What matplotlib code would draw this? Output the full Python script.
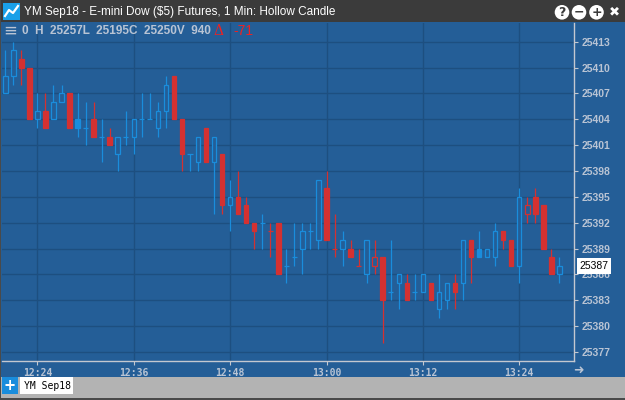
import numpy as np
import pandas as pd
import matplotlib
matplotlib.use('Agg')
import matplotlib.pyplot as plt
import matplotlib.dates as mdates
from matplotlib.patches import Rectangle, Circle

# 1 minute candles, YM Sep18, starting 12:20
start = '2018-08-20 12:20'
opens = [25407, 25409, 25411, 25410, 25404, 25405, 25404, 25406, 25407, 25404,
         25403, 25404, 25402, 25402, 25400, 25402, 25402, 25404, 25404, 25403,
         25405, 25409, 25404, 25400, 25399, 25403, 25399, 25400, 25394, 25395,
         25394, 25392, 25392, 25391, 25392, 25387, 25388, 25389, 25391, 25390,
         25396, 25389, 25389, 25389, 25387, 25386, 25387, 25388, 25384, 25385,
         25385, 25384, 25384, 25385, 25382, 25383, 25385, 25385, 25390, 25389,
         25388, 25388, 25391, 25390, 25387, 25393, 25395, 25394, 25388, 25386]
highs = [25412, 25413, 25412, 25410, 25407, 25407, 25408, 25408, 25407, 25407,
         25406, 25406, 25404, 25403, 25402, 25405, 25404, 25407, 25407, 25406,
         25409, 25409, 25404, 25400, 25402, 25403, 25402, 25400, 25397, 25398,
         25395, 25392, 25393, 25392, 25392, 25389, 25392, 25392, 25392, 25397,
         25398, 25393, 25391, 25390, 25389, 25390, 25390, 25388, 25390, 25386,
         25386, 25386, 25386, 25385, 25386, 25385, 25386, 25390, 25390, 25391,
         25389, 25392, 25391, 25390, 25396, 25395, 25396, 25394, 25389, 25388]
lows = [25407, 25408, 25408, 25404, 25403, 25403, 25404, 25406, 25403, 25402,
        25401, 25402, 25399, 25401, 25398, 25401, 25400, 25402, 25404, 25402,
        25403, 25404, 25398, 25398, 25398, 25399, 25393, 25393, 25391, 25393,
        25392, 25389, 25389, 25388, 25386, 25385, 25387, 25386, 25389, 25389,
        25390, 25388, 25387, 25388, 25387, 25385, 25386, 25378, 25383, 25382,
        25383, 25383, 25384, 25383, 25381, 25382, 25382, 25383, 25385, 25388,
        25388, 25387, 25389, 25387, 25385, 25392, 25392, 25389, 25386, 25385]
closes = [25409, 25412, 25410, 25404, 25405, 25403, 25406, 25407, 25403, 25403,
          25403, 25402, 25402, 25401, 25402, 25402, 25404, 25404, 25404, 25405,
          25408, 25404, 25400, 25400, 25402, 25399, 25402, 25394, 25395, 25393,
          25392, 25391, 25392, 25391, 25386, 25387, 25388, 25391, 25391, 25397,
          25390, 25389, 25390, 25388, 25387, 25390, 25388, 25383, 25384, 25386,
          25383, 25384, 25386, 25383, 25384, 25385, 25384, 25390, 25388, 25388,
          25389, 25391, 25390, 25387, 25395, 25394, 25393, 25389, 25386, 25387]

header = '0  H  25257L  25195C  25250V  940'
change = '-71'
title = 'YM Sep18 - E-mini Dow ($5) Futures, 1 Min: Hollow Candle'

BG = '#245e97'
GRID = '#1d4f80'
UP = '#1a8ddc'
DOWN = '#d43131'
AXIS = '#c4c8d0'
LABEL = '#b9c4d4'

times = mdates.date2num(pd.date_range(start, periods=len(opens), freq='min'))
one_min = 1 / 1440.0

fig = plt.figure(figsize=(6.25, 4.0), dpi=100, facecolor=BG)
W, H = 625.0, 400.0
ax = fig.add_axes([2 / W, (400 - 360.7) / H, 572 / W, (360.7 - 22.7) / H])
ax.set_facecolor(BG)

prev = opens[0]
for t, o, h, l, c in zip(times, opens, highs, lows, closes):
    col = UP if c >= prev else DOWN
    prev = c
    ax.vlines(t, l, h, color=col, lw=0.9, zorder=2)
    if o == c:
        ax.hlines(c, t - 0.33 * one_min, t + 0.33 * one_min, color=col, lw=0.9, zorder=3)
        continue
    face = col if c < o else BG
    ax.bar(t, abs(c - o), bottom=min(o, c), width=0.56 * one_min,
           facecolor=face, edgecolor=col, lw=0.9, zorder=3)

ax.set_xlim(times[0] - 0.41 * one_min, times[0] + 70.82 * one_min)
ax.set_ylim(25376.0, 25415.2)

ax.yaxis.tick_right()
ax.yaxis.set_major_locator(plt.MultipleLocator(3))
ax.xaxis.set_major_locator(mdates.MinuteLocator(byminute=[0, 12, 24, 36, 48]))
ax.xaxis.set_major_formatter(mdates.DateFormatter('%H:%M'))
ax.grid(True, color=GRID, lw=1.0)
ax.set_axisbelow(True)

for side in ['left', 'top']:
    ax.spines[side].set_visible(False)
for side in ['right', 'bottom']:
    ax.spines[side].set_color(AXIS)
    ax.spines[side].set_linewidth(1.0)

ax.tick_params(axis='y', colors=AXIS, length=3, pad=2.5, labelcolor=LABEL, labelsize=7.5)
ax.tick_params(axis='x', colors=AXIS, length=3, pad=2.5, labelcolor=LABEL, labelsize=7)
for lab in ax.get_yticklabels():
    lab.set_fontweight('bold')
    lab.set_family('Liberation Sans')
for lab in ax.get_xticklabels():
    lab.set_family('DejaVu Sans Mono')
    lab.set_fontweight('bold')

# last price box
ax.text(1.0095, closes[-1], str(closes[-1]), transform=ax.get_yaxis_transform(),
        ha='left', va='center', fontsize=7.5, color='black', family='Liberation Sans',
        bbox=dict(boxstyle='square,pad=0.28', fc='white', ec='none'), zorder=5, clip_on=False)

# header line over the chart
fig.text(3 / W, 1 - 31 / H, '≡', color=LABEL, fontsize=12, va='center', ha='left')
fig.text(22 / W, 1 - 31 / H, header, color=LABEL, fontsize=8.5, fontweight='bold',
         family='Liberation Sans', va='center', ha='left')
fig.text(213 / W, 1 - 31 / H, 'Δ', color='#ee2222', fontsize=10,
         family='DejaVu Serif', va='center', ha='left')
fig.text(233 / W, 1 - 31 / H, change, color='#ee2222', fontsize=10,
         family='Liberation Sans', va='center', ha='left')

# title bar
fig.patches.append(Rectangle((0, 1 - 22 / H), 1, 22 / H, transform=fig.transFigure,
                             fc='#3b3b3b', ec='none', zorder=0))
fig.patches.append(Rectangle((3 / W, 1 - 20 / H), 17 / W, 17 / H, transform=fig.transFigure,
                             fc='#1aa0e8', ec='none', zorder=1))
fig.lines.append(plt.Line2D(np.array([5, 9, 13, 18]) / W, 1 - np.array([16, 10, 13, 6]) / H,
                            transform=fig.transFigure, color='white', lw=1.6))
fig.text(24 / W, 1 - 11.5 / H, title, color='white', fontsize=8.5,
         family='Liberation Sans', va='center', ha='left')
for xc, sym in zip([562, 579, 596.5, 614], ['?', '−', '+', '×']):
    if sym == '×':
        fig.text(xc / W, 1 - 12.3 / H, '✖', color='white', fontsize=9.5,
                 va='center', ha='center')
        continue
    fig.patches.append(Circle((xc, H - 12.3), 7.3, transform=None, fc='white', ec='none'))
    fig.text(xc / W, 1 - 12.3 / H, sym, color='#3b3b3b', fontsize=9, fontweight='bold',
             va='center', ha='center')

# arrow at right of time axis
fig.text(578 / W, 1 - 370 / H, '➜', color=LABEL, fontsize=9, va='center', ha='center')

# bottom tab bar
fig.patches.append(Rectangle((0, 0), 1, 23.3 / H, transform=fig.transFigure,
                             fc='#b3b3b3', ec='none', zorder=0))
fig.patches.append(Rectangle((1.7 / W, 5.7 / H), 16.6 / W, 17 / H, transform=fig.transFigure,
                             fc='#1a8ddc', ec='none', zorder=1))
fig.text(10 / W, 14.2 / H, '+', color='white', fontsize=10.5, fontweight='bold',
         va='center', ha='center')
fig.patches.append(Rectangle((20 / W, 5.7 / H), 52.7 / W, 17 / H, transform=fig.transFigure,
                             fc='white', ec='none', zorder=1))
fig.text(24 / W, 14.2 / H, 'YM Sep18', color='black', fontsize=7, family='DejaVu Sans Mono',
         va='center', ha='left')

# dark window border left and bottom
fig.patches.append(Rectangle((0, 0), 1.5 / W, 1, transform=fig.transFigure,
                             fc='#4a4a4a', ec='none', zorder=2))
fig.patches.append(Rectangle((0, 0), 1, 2 / H, transform=fig.transFigure,
                             fc='#4a4a4a', ec='none', zorder=2))

fig.savefig('out.png', dpi=100, facecolor=BG)
